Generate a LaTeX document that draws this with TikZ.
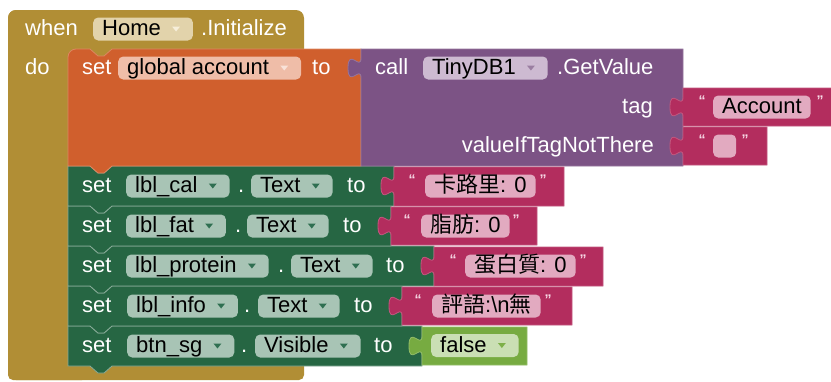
\documentclass[tikz,border=0pt]{standalone}
\usepackage{fontspec}
\setmainfont{Liberation Sans}
\newfontfamily\cjk{Noto Sans CJK TC}

% block palette
\definecolor{ctlgold}{HTML}{B18E35}
\definecolor{ctlgoldlt}{HTML}{E2D3AB}
\definecolor{ctlarrow}{HTML}{F6EEDA}
\definecolor{varorange}{HTML}{D05F2D}
\definecolor{varorangelt}{HTML}{EFBDA8}
\definecolor{vararrow}{HTML}{F9E2D8}
\definecolor{methpurple}{HTML}{7C5385}
\definecolor{methpurplelt}{HTML}{CDBAD1}
\definecolor{metharrow}{HTML}{9A7EA1}
\definecolor{setgreen}{HTML}{266643}
\definecolor{setgreenlt}{HTML}{A8C4B5}
\definecolor{setarrow}{HTML}{2F6F51}
\definecolor{txtpink}{HTML}{B32D5E}
\definecolor{txtpinklt}{HTML}{E2AAC0}
\definecolor{quotepink}{HTML}{F8DDE8}
\definecolor{logicgreen}{HTML}{77AB41}
\definecolor{logicgreenlt}{HTML}{CADFB4}
\definecolor{logicarrow}{HTML}{7DB048}

\tikzset{
  lbl/.style={anchor=west, text=white, inner sep=0pt,
    text height=16pt, text depth=3pt, font=\fontsize{22}{26}\selectfont},
  lblr/.style={lbl, anchor=east},
  bub/.style={anchor=west, text=black, rounded corners=5pt,
    inner xsep=9pt, inner ysep=2pt, text height=16pt, text depth=3pt,
    font=\fontsize{22}{26}\selectfont},
  qmark/.style={text=quotepink, inner sep=0pt, font=\fontsize{14}{14}\bfseries},
  edge/.style={line width=0.8pt},
}

% room left for the dropdown triangle inside a field
\newcommand\ddroom{\kern23pt}
% small down-pointing triangle of a dropdown field
\newcommand\ddarrow[2]{%
  \fill[#2] ([xshift=-21pt,yshift=2.5pt]#1.east) -- ++(8pt,0) -- ++(-4pt,-5pt) -- cycle;}

% statement block: fill, edge colour, top, right, bottom
\newcommand\stmtblock[5]{%
  \filldraw[fill=#1, draw=#2, edge] (68,#3) -- (90,#3) -- (98,#3+7) -- (104,#3+7)
    -- (112,#3) -- (#4,#3) -- (#4,#5) -- (112,#5) -- (104,#5+7) -- (98,#5+7)
    -- (90,#5) -- (68,#5) -- cycle;}

% value block with its plug on the left: fill, edge, left, top, right, bottom
\newcommand\valblock[6]{%
  \filldraw[fill=#1, draw=#2, edge] (#3,#4) -- (#5,#4) -- (#5,#6) -- (#3,#6)
    -- (#3,#4+29) .. controls (#3,#4+15.7) and (#3-13,#4+39.7) .. (#3-13,#4+19)
    .. controls (#3-13,#4-1.7) and (#3,#4+22.3) .. (#3,#4+9) -- cycle;}

\begin{document}
\begin{tikzpicture}[x=1pt,y=-1pt]
\useasboundingbox (0,0) rectangle (831,381);
\clip (0,0) rectangle (831,381);

% event handler frame
\fill[ctlgold, rounded corners=8pt] (8,10) rectangle (304,62);
\fill[ctlgold, rounded corners=8pt] (8,10) rectangle (90,380);
\fill[ctlgold, rounded corners=5pt] (8,350) rectangle (304,380);

% setter stack, lowest first so each tab lies over the block below
\stmtblock{setgreen}{setgreen!55!white}{326}{422}{366}
\stmtblock{setgreen}{setgreen!55!white}{286}{402}{326}
\stmtblock{setgreen}{setgreen!55!white}{246}{434}{286}
\stmtblock{setgreen}{setgreen!55!white}{206}{391}{246}
\stmtblock{setgreen}{setgreen!55!white}{166}{394}{206}

% global variable setter
\filldraw[fill=varorange, draw=varorange!75!white, edge] (68,166) -- (68,57)
  .. controls (68,52.6) and (71.6,49) .. (76,49) -- (90,49) -- (98,56) -- (104,56)
  -- (112,49) -- (361,49) -- (361,166) -- (112,166) -- (104,173) -- (98,173)
  -- (90,166) -- cycle;

% value blocks
\valblock{methpurple}{methpurple!80!white}{361}{49}{683}{166}
\valblock{txtpink}{txtpink!80!white}{683}{88}{845}{126}
\valblock{txtpink}{txtpink!80!white}{683}{127}{767}{165}
\valblock{txtpink}{txtpink!80!white}{394}{167}{564}{206}
\valblock{txtpink}{txtpink!80!white}{391}{207}{537}{245}
\valblock{txtpink}{txtpink!80!white}{434}{247}{603}{286}
\valblock{txtpink}{txtpink!80!white}{402}{287}{572}{325}
\valblock{logicgreen}{logicgreen!80!white}{422}{327}{527}{365}

% header
\node[lbl] (when) at (25,29) {when};
\node[bub, fill=ctlgoldlt] (home) at (93,29) {Home\ddroom};
\ddarrow{home}{ctlarrow}
\node[lbl] (init) at (201,29) {.Initialize};
\node[lbl] (do) at (25,68) {do};

% set global account to call TinyDB1.GetValue
\node[lbl] (set0) at (82,68) {set};
\node[bub, fill=varorangelt] (gacc) at (118,68) {global account\ddroom};
\ddarrow{gacc}{vararrow}
\node[lbl] (to0) at (312,68) {to};
\node[lbl] (call) at (375,68) {call};
\node[bub, fill=methpurplelt] (tdb) at (423,68) {TinyDB1\ddroom};
\ddarrow{tdb}{metharrow}
\node[lbl] (getv) at (557,68) {.GetValue};
\node[lblr] (tag) at (653,107) {tag};
\node[lblr] (vitnt) at (654,146) {valueIfTagNotThere};
\node[qmark] (acctl) at (702,101) {“};
\node[bub, fill=txtpinklt] (acct) at (713,107) {Account};
\node[qmark] (acctr) at (820,101) {”};
\node[qmark] (emptyl) at (702,140) {“};
\node[bub, fill=txtpinklt, minimum width=23pt] (empty) at (713,146) {};
\node[qmark] (emptyr) at (745,140) {”};

% lbl_cal.Text
\node[lbl] (set1) at (82,186) {set};
\node[bub, fill=setgreenlt] (comp1) at (126,186) {lbl\_cal\ddroom};
\ddarrow{comp1}{setarrow}
\node[lbl] (dot1) at (238,186) {.};
\node[bub, fill=setgreenlt] (prop1) at (251,186) {Text\ddroom};
\ddarrow{prop1}{setarrow}
\node[lbl] (to1) at (347,186) {to};
\node[qmark] (q1l) at (412,180) {“};
\node[bub, fill=txtpinklt] (str1) at (425,186) {{\cjk 卡路里}: 0};
\node[qmark] (q1r) at (543,180) {”};

% lbl_fat.Text
\node[lbl] (set2) at (82,226) {set};
\node[bub, fill=setgreenlt] (comp2) at (126,226) {lbl\_fat\ddroom};
\ddarrow{comp2}{setarrow}
\node[lbl] (dot2) at (235,226) {.};
\node[bub, fill=setgreenlt] (prop2) at (247,226) {Text\ddroom};
\ddarrow{prop2}{setarrow}
\node[lbl] (to2) at (343,226) {to};
\node[qmark] (q2l) at (407,220) {“};
\node[bub, fill=txtpinklt] (str2) at (421,226) {{\cjk 脂肪}: 0};
\node[qmark] (q2r) at (516,220) {”};

% lbl_protein.Text
\node[lbl] (set3) at (82,266) {set};
\node[bub, fill=setgreenlt] (comp3) at (126,266) {lbl\_protein\ddroom};
\ddarrow{comp3}{setarrow}
\node[lbl] (dot3) at (278,266) {.};
\node[bub, fill=setgreenlt] (prop3) at (291,266) {Text\ddroom};
\ddarrow{prop3}{setarrow}
\node[lbl] (to3) at (386,266) {to};
\node[qmark] (q3l) at (453,260) {“};
\node[bub, fill=txtpinklt] (str3) at (465,266) {{\cjk 蛋白質}: 0};
\node[qmark] (q3r) at (583,260) {”};

% lbl_info.Text
\node[lbl] (set4) at (82,306) {set};
\node[bub, fill=setgreenlt] (comp4) at (127,306) {lbl\_info\ddroom};
\ddarrow{comp4}{setarrow}
\node[lbl] (dot4) at (244,306) {.};
\node[bub, fill=setgreenlt] (prop4) at (258,306) {Text\ddroom};
\ddarrow{prop4}{setarrow}
\node[lbl] (to4) at (354,306) {to};
\node[qmark] (q4l) at (418,300) {“};
\node[bub, fill=txtpinklt] (str4) at (432,306) {{\cjk 評語}:\textbackslash n{\cjk 無}};
\node[qmark] (q4r) at (548,300) {”};

% btn_sg.Visible
\node[lbl] (set5) at (82,346) {set};
\node[bub, fill=setgreenlt] (comp5) at (127,346) {btn\_sg\ddroom};
\ddarrow{comp5}{setarrow}
\node[lbl] (dot5) at (241,346) {.};
\node[bub, fill=setgreenlt] (prop5) at (255,346) {Visible\ddroom};
\ddarrow{prop5}{setarrow}
\node[lbl] (to5) at (374,346) {to};
\node[bub, fill=logicgreenlt] (bool5) at (431,345.5) {false\ddroom};
\ddarrow{bool5}{logicarrow}
\end{tikzpicture}
\end{document}
